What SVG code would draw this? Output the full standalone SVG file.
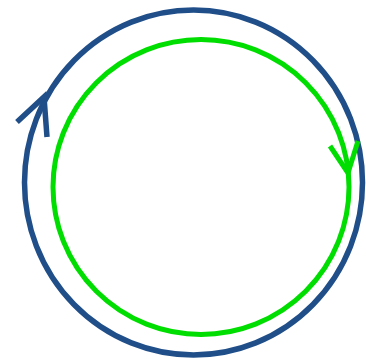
<svg xmlns="http://www.w3.org/2000/svg" width="366" height="361" viewBox="0 0 366 361">
<style>
.blue{fill:none;stroke:#1f4e89;stroke-width:5.5}
.green{fill:none;stroke:#00dd00;stroke-width:5}
</style>
<rect width="366" height="361" fill="#ffffff"/>
<g id="outer-cycle">
<ellipse class="blue" cx="193.5" cy="182.5" rx="169" ry="172.5"/>
<polyline class="blue" points="17,122 44,97 47,137" stroke-linejoin="miter"/>
</g>
<g id="inner-cycle">
<ellipse class="green" cx="201" cy="187" rx="148" ry="147.5"/>
<polyline class="green" points="330,146 348,173 358,141" stroke-linejoin="miter"/>
</g>
</svg>
